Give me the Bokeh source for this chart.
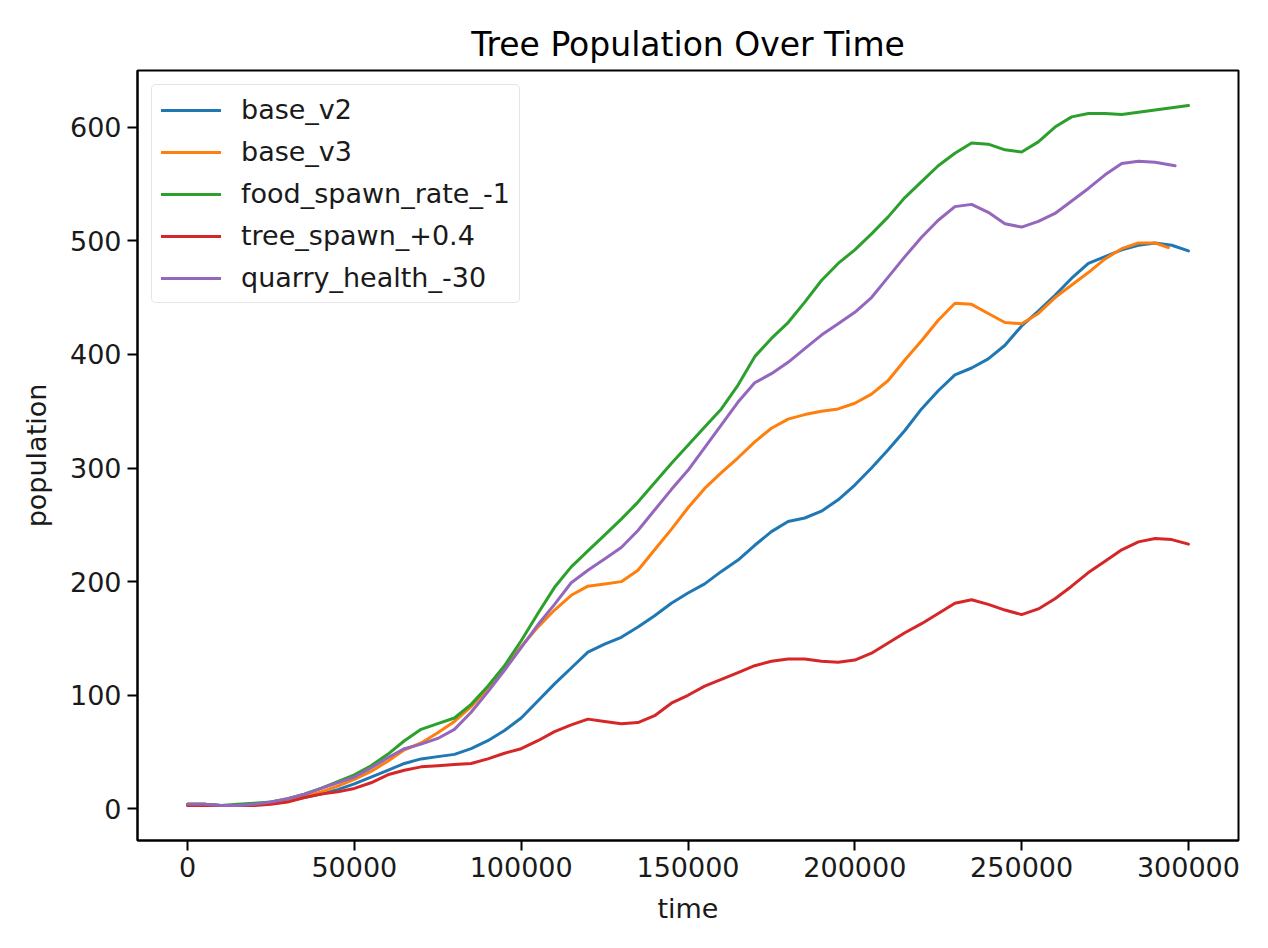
from bokeh.plotting import figure
from bokeh.models import Range1d, Legend, LegendItem, FixedTicker
from bokeh.embed import file_html
from bokeh.resources import INLINE

t_common = list(range(0, 300001, 5000))
t_base_v3 = t_common[:-2] + [294000]
t_quarry = t_common[:-2] + [296000]

base_v2 = [4, 4, 3, 3, 4, 5, 7, 10, 13, 17,
           22, 28, 34, 40, 44, 46, 48, 53, 60, 69,
           80, 95, 110, 124, 138, 145, 151, 160, 170, 181,
           190, 198, 209, 219, 232, 244, 253, 256, 262, 272,
           285, 300, 316, 333, 352, 368, 382, 388, 396, 408,
           425, 438, 452, 467, 480, 486, 492, 496, 498, 496,
           491]
base_v3 = [4, 4, 3, 3, 4, 6, 8, 11, 15, 20,
           26, 33, 42, 52, 58, 67, 77, 90, 106, 124,
           143, 160, 175, 188, 196, 198, 200, 210, 228, 246,
           265, 282, 296, 309, 323, 335, 343, 347, 350, 352,
           357, 365, 377, 395, 412, 430, 445, 444, 436, 428,
           427, 436, 450, 461, 472, 484, 493, 498, 498,
           494]
food_spawn_rate = [4, 4, 3, 4, 5, 6, 9, 13, 18, 24,
                   30, 38, 48, 60, 70, 75, 80, 92, 108, 126,
                   148, 172, 195, 213, 227, 241, 255, 270, 287, 304,
                   320, 336, 352, 373, 398, 414, 428, 446, 465, 480,
                   492, 506, 521, 538, 552, 566, 577, 586, 585, 580,
                   578, 587, 600, 609, 612, 612, 611, 613, 615, 617,
                   619]
tree_spawn = [3, 3, 3, 3, 3, 4, 6, 10, 13, 15,
              18, 23, 30, 34, 37, 38, 39, 40, 44, 49,
              53, 60, 68, 74, 79, 77, 75, 76, 82, 93,
              100, 108, 114, 120, 126, 130, 132, 132, 130, 129,
              131, 137, 146, 155, 163, 172, 181, 184, 180, 175,
              171, 176, 185, 196, 208, 218, 228, 235, 238, 237,
              233]
quarry_health = [4, 4, 3, 3, 4, 6, 9, 13, 18, 23,
                 28, 36, 45, 53, 57, 62, 70, 85, 103, 122,
                 142, 162, 180, 199, 210, 220, 230, 245, 263, 281,
                 298, 318, 338, 358, 375, 383, 393, 405, 417, 427,
                 437, 450, 468, 486, 503, 518, 530, 532, 525, 515,
                 512, 517, 524, 535, 546, 558, 568, 570, 569,
                 566]

series_names = ["base_v2", "base_v3", "food_spawn_rate_-1", "tree_spawn_+0.4", "quarry_health_-30"]
series_x = [t_common, t_base_v3, t_common, t_common, t_quarry]
series_y = [base_v2, base_v3, food_spawn_rate, tree_spawn, quarry_health]
colors = ["#1f77b4", "#ff7f0e", "#2ca02c", "#d62728", "#9467bd"]

x_ticks = [0, 50000, 100000, 150000, 200000, 250000, 300000]
y_ticks = [0, 100, 200, 300, 400, 500, 600]

FONT = "DejaVu Sans"

p = figure(width=1260, height=940, output_backend="svg", toolbar_location=None,
           x_range=Range1d(-15000, 315000), y_range=Range1d(-27.8, 649.8),
           min_border_left=137, min_border_right=22, min_border_top=70, min_border_bottom=100,
           title="Tree Population Over Time")

p.title.text_font = FONT
p.title.text_font_size = "33px"
p.title.text_font_style = "normal"
p.title.align = "center"
p.title.text_color = "black"
p.title.standoff = 14

p.xgrid.visible = False
p.ygrid.visible = False
p.outline_line_color = "black"
p.outline_line_width = 2
p.background_fill_color = "white"
p.border_fill_color = "white"

items = []
for name, xs, ys, c in zip(series_names, series_x, series_y, colors):
    r = p.line(xs, ys, line_color=c, line_width=3, line_join="round", line_cap="round")
    items.append(LegendItem(label=name, renderers=[r]))

for ax in (p.xaxis[0], p.yaxis[0]):
    ax.major_label_text_font = FONT
    ax.major_label_text_font_size = "27px"
    ax.major_label_text_color = "#1a1a1a"
    ax.axis_label_text_font = FONT
    ax.axis_label_text_font_size = "27px"
    ax.axis_label_text_font_style = "normal"
    ax.axis_label_text_color = "#1a1a1a"
    ax.major_tick_out = 10
    ax.major_tick_in = 0
    ax.major_tick_line_width = 2
    ax.minor_tick_line_color = None
    ax.axis_line_width = 2
    ax.major_label_standoff = 6

p.xaxis[0].ticker = FixedTicker(ticks=x_ticks)
p.yaxis[0].ticker = FixedTicker(ticks=y_ticks)
p.xaxis[0].axis_label = "time"
p.yaxis[0].axis_label = "population"
p.xaxis[0].axis_label_standoff = 13
p.yaxis[0].axis_label_standoff = 15
p.xaxis[0].formatter.use_scientific = False

legend = Legend(items=items, location="top_left")
legend.label_text_font = FONT
legend.label_text_font_size = "27px"
legend.label_text_color = "#1a1a1a"
legend.glyph_width = 60
legend.glyph_height = 30
legend.label_height = 30
legend.label_standoff = 20
legend.spacing = 11
legend.padding = 9
legend.margin = 14
legend.border_line_color = "#cccccc"
legend.border_line_width = 1.5
legend.background_fill_color = "white"
legend.background_fill_alpha = 0.8
if hasattr(legend, "border_radius"):
    legend.border_radius = 5
p.add_layout(legend)

open("out.html", "w").write(file_html(p, INLINE))
